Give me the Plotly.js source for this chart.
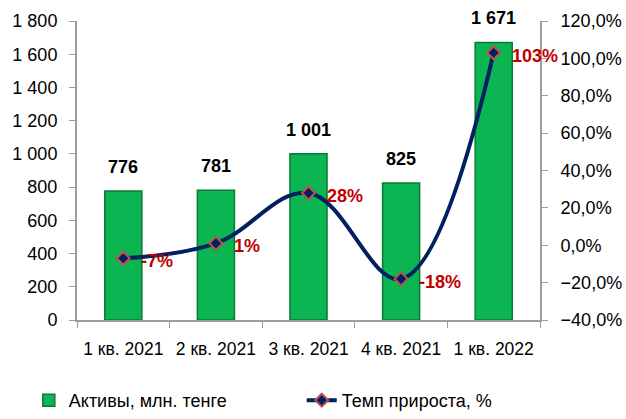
<!DOCTYPE html>
<html>
<head>
<meta charset="utf-8">
<script src="https://cdn.plot.ly/plotly-3.0.1.min.js"></script>
<style>html,body{margin:0;padding:0;background:#fff;}#chart{width:626px;height:419px;}</style>
</head>
<body>
<div id="chart"></div>
<script>
const categories = ["1 кв. 2021", "2 кв. 2021", "3 кв. 2021", "4 кв. 2021", "1 кв. 2022"];
const assets = [776, 781, 1001, 825, 1671];
const growth = [-7, 1, 28, -18, 103];
const assetsName = "Активы, млн. тенге";
const growthName = "Темп прироста, %";

const FONT = "Liberation Sans, Arial, sans-serif";

const barTrace = {
  type: "bar",
  x: categories,
  y: assets,
  name: assetsName,
  legend: "legend",
  width: 0.4,
  marker: {color: "#0AB552", line: {color: "#087A36", width: 1.5}},
  hoverinfo: "skip"
};
const lineTrace = {
  type: "scatter",
  mode: "lines+markers",
  x: categories,
  y: growth,
  yaxis: "y2",
  name: growthName,
  legend: "legend2",
  line: {color: "#002060", width: 4, shape: "spline", smoothing: 1.1},
  marker: {symbol: "diamond", size: 10, color: "#002060", line: {color: "#C0504D", width: 2}},
  hoverinfo: "skip"
};

const annotations = [];
categories.forEach((c, i) => {
  annotations.push({
    x: c, y: assets[i], xref: "x", yref: "y",
    text: "<b>" + assets[i].toLocaleString("ru-RU").replace(/\s/g, " ") + "</b>",
    showarrow: false, yanchor: "bottom", yshift: 12,
    font: {family: FONT, size: 18, color: "#000"}
  });
  annotations.push({
    x: c, y: growth[i], xref: "x", yref: "y2",
    text: "<b>" + growth[i] + "%</b>",
    showarrow: false, xanchor: "left", xshift: 16, yshift: -3,
    font: {family: FONT, size: 18, color: "#C00000"}
  });
});

const legendBase = {orientation: "h", xref: "container", yref: "container", xanchor: "left", y: -0.012, yanchor: "bottom",
                    font: {family: FONT, size: 18, color: "#000"}};

const layout = {
  width: 626, height: 419,
  margin: {l: 77, r: 86, t: 21, b: 99},
  paper_bgcolor: "#fff", plot_bgcolor: "#fff",
  separators: ", ",
  font: {family: FONT, size: 18, color: "#000"},
  showlegend: true,
  legend: Object.assign({}, legendBase, {x: 0.046}),
  legend2: Object.assign({}, legendBase, {x: 0.482}),
  bargap: 0.6,
  xaxis: {
    type: "category", range: [-0.5, categories.length - 0.5], autorange: false,
    tickson: "boundaries", ticks: "outside", ticklen: 6, tickcolor: "#9E9E9E",
    showline: true, linecolor: "#9E9E9E", linewidth: 2, showgrid: false, tickangle: 0,
    tickfont: {family: FONT, size: 17.5}, ticklabelstandoff: 12, automargin: false
  },
  yaxis: {
    range: [0, 1800], dtick: 200, tickformat: ",d", ticks: "outside", ticklen: 6, tickcolor: "#9E9E9E",
    showline: true, linecolor: "#9E9E9E", linewidth: 2, showgrid: false, zeroline: false,
    tickfont: {family: FONT, size: 18}, ticklabelstandoff: 8, automargin: false
  },
  yaxis2: {
    overlaying: "y", side: "right", range: [-40, 120], dtick: 20, tickformat: ".1f", ticksuffix: "%",
    ticks: "outside", ticklen: 6, tickcolor: "#9E9E9E",
    showline: true, linecolor: "#9E9E9E", linewidth: 2, showgrid: false, zeroline: false,
    tickfont: {family: FONT, size: 18}, ticklabelstandoff: 9, automargin: false
  },
  annotations: annotations
};

Plotly.newPlot("chart", [barTrace, lineTrace], layout, {displayModeBar: false, staticPlot: true});
</script>
</body>
</html>
